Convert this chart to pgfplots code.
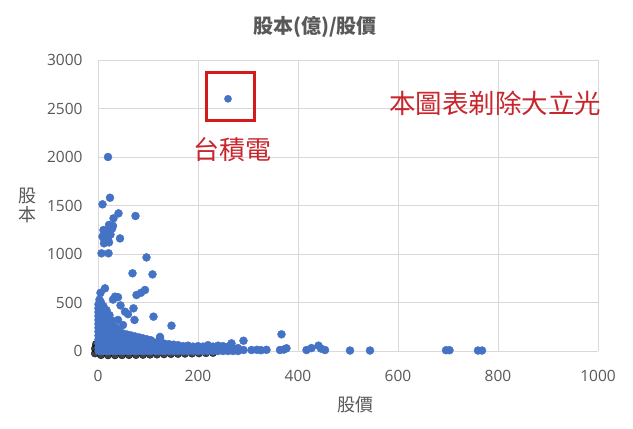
\documentclass[border=0pt]{standalone}
\usepackage{fontspec}
\setmainfont{Open Sans}
\newfontfamily\cjk{Noto Sans CJK TC}
\usepackage{pgfplots}
\pgfplotsset{compat=1.18}
\definecolor{ptblue}{HTML}{4472C4}
\definecolor{txtgray}{HTML}{595959}
\definecolor{gridgray}{HTML}{D9D9D9}
\definecolor{annred}{HTML}{C8252C}
\definecolor{boxred}{HTML}{D41A1A}
\begin{document}
\begin{tikzpicture}
\useasboundingbox (0,0) rectangle (633bp,429bp);
\fill[white] (0,0) rectangle (633bp,429bp);
\begin{axis}[
  at={(98bp,78bp)}, anchor=south west,
  scale only axis, width=500bp, height=291bp,
  xmin=0, xmax=1000, ymin=0, ymax=3000,
  xtick={0,200,...,1000}, ytick={0,500,...,3000},
  grid=major, major grid style={gridgray, line width=0.8bp},
  axis line style={draw=none},
  major tick length=0pt,
  clip=false,
  /pgf/number format/assume math mode=true,
  /pgf/number format/1000 sep={},
  tick label style={font=\fontsize{15.5bp}{18bp}\selectfont, text=txtgray},
  yticklabel style={xshift=-12bp},
  xticklabel style={yshift=-16bp},
]
% shadow beneath the dense cluster
\addplot[black, only marks, mark=*, mark size=3.8bp, opacity=0.75] coordinates {
(-6,-25) (-6,25) (-4,70) (6,-42) (20,-44) (34,-44) (48,-43) (62,-42) (76,-41) (90,-40)
(104,-38) (118,-36) (132,-34) (146,-32) (160,-30) (174,-28) (188,-26) (202,-24) (216,-22) (230,-20)
};
\addplot[ptblue, only marks, mark=*, mark size=4bp] coordinates {
(1,0) (1,40) (1,80) (1,120) (1,160) (1,200) (1,240) (1,280) (1,320) (1,360) (1,400) (1,440) (1,480) (3,530) (5,600)
(6,0) (6,50) (6,100) (6,150) (6,200) (6,250) (6,300) (6,350) (6,400) (6,450) (6,500)
(11,0) (11,50) (11,100) (11,150) (11,200) (11,250) (11,300) (11,350) (11,400) (11,460)
(17,0) (17,50) (17,100) (17,150) (17,200) (17,250) (17,300) (17,350) (17,420)
(23,0) (23,50) (23,100) (23,150) (23,200) (23,250) (23,300) (23,370)
(29,0) (29,50) (29,100) (29,150) (29,200) (29,250) (29,310)
(36,0) (36,45) (36,90) (36,140) (36,190) (36,240)
(43,0) (43,45) (43,90) (43,140) (43,200) (40,320)
(50,0) (50,40) (50,80) (50,130) (50,180) (50,268)
(58,0) (58,40) (58,80) (58,120) (58,170)
(66,0) (66,40) (66,80) (66,120) (66,160)
(74,0) (74,35) (74,70) (74,110) (74,150)
(82,0) (82,35) (82,70) (82,110) (82,140)
(90,0) (90,30) (90,65) (90,100) (90,130)
(98,0) (98,30) (98,60) (98,95) (98,120)
(106,0) (106,30) (106,60) (106,90) (106,110)
(115,0) (115,30) (115,60) (115,85)
(124,0) (124,30) (124,60) (124,80) (124,145)
(133,0) (133,30) (133,60) (133,75)
(142,0) (142,25) (142,55) (142,70)
(151,0) (151,25) (151,50) (151,65)
(160,0) (160,25) (160,50) (160,60)
(170,0) (170,25) (170,50)
(180,0) (180,25) (180,55)
(190,0) (190,25) (190,45)
(200,0) (200,25) (200,50)
(210,0) (210,20) (210,45)
(220,0) (220,25) (220,60)
(230,0) (230,20) (230,45)
(240,0) (240,25) (240,55)
(250,0) (250,20) (250,50)
(260,0) (260,25) (260,45)
(270,0) (270,20) (267,79)
(280,0) (280,30) (291,106) (291,10)
(307,10) (318,12) (326,8) (337,12) (364,10) (367,172) (377,28) (372,15)
(417,10) (427,30) (441,55) (446,25) (454,10) (504,5) (544,5) (696,8) (703,8) (760,5) (768,5)
(20,2000) (24,1580) (9,1512) (41,1419) (75,1392) (31,1368) (22,1300) (11,1247) (15,1220) (17,1179)
(20,1150) (13,1140) (44,1161) (9,1180) (12,1110) (25,1200) (28,1260) (18,1230) (30,1290) (22,1120)
(7,1007) (21,1007) (97,965) (69,801) (109,790) (94,629) (86,600) (77,577) (14,646) (34,560) (40,555)
(54,405) (71,440) (73,320) (111,354) (147,261) (124,131) (60,380) (30,530) (45,470)
};
\addplot[ptblue, only marks, mark=*, mark size=3.6bp] coordinates {(260,2600)};
\end{axis}
% annotations
\draw[boxred, line width=3bp] (206bp,308bp) rectangle (254bp,356bp);
\node[text=annred, font=\cjk\fontsize{26bp}{28bp}\selectfont] at (232bp,279bp) {台積電};
\node[text=annred, font=\cjk\fontsize{26.5bp}{28bp}\selectfont] at (495bp,326bp) {本圖表剃除大立光};
% title and labels
\node[text=txtgray, font=\cjk\bfseries\fontsize{20bp}{22bp}\selectfont] at (315bp,402bp) {股本(億)/股價};
\node[text=txtgray, font=\cjk\fontsize{18bp}{19bp}\selectfont, align=center] at (27bp,224bp) {股\\本};
\node[text=txtgray, font=\cjk\fontsize{18bp}{20bp}\selectfont] at (355bp,24bp) {股價};
\end{tikzpicture}
\end{document}
